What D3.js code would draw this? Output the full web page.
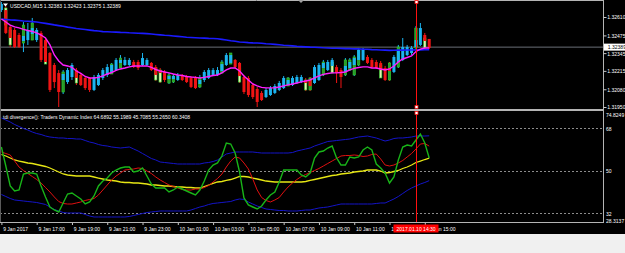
<!DOCTYPE html>
<html>
<head>
<meta charset="utf-8">
<script src="https://cdn.jsdelivr.net/npm/d3@7"></script>
<style>
  html, body { margin: 0; padding: 0; background: #f0f0f0; }
  svg { display: block; }
  text { font-family: "Liberation Sans", Arial, sans-serif; }
</style>
</head>
<body>
<svg id="chart" width="625" height="253"></svg>
<script>
// ---------------------------
// Data (USDCAD M15, 9 Jan 15:00 -> 10 Jan 15:15)
// ---------------------------
const symbolTitle = 'USDCAD,M15  1.32383 1.32423 1.32375 1.32389';
const tdiTitle = 'tdi divergence(): Traders Dynamic Index 64.6892 55.1989 45.7085 55.2650 60.3408';

const open = [1.32661,1.32661,1.32537,1.32515,1.32478,1.32434,1.32441,1.32485,1.32441,1.32493,
  1.32441,1.32346,1.32258,1.32199,1.32148,1.32133,1.32170,1.32221,1.32185,1.32163,
  1.32163,1.32075,1.32111,1.32163,1.32185,1.32207,1.32221,1.32273,1.32258,1.32258,
  1.32280,1.32280,1.32258,1.32258,1.32273,1.32243,1.32221,1.32207,1.32155,1.32155,
  1.32148,1.32177,1.32170,1.32163,1.32163,1.32119,1.32148,1.32163,1.32185,1.32185,
  1.32214,1.32258,1.32273,1.32295,1.32273,1.32170,1.32163,1.32111,1.32082,1.32053,
  1.32023,1.32038,1.32053,1.32075,1.32089,1.32111,1.32111,1.32126,1.32133,1.32148,
  1.32148,1.32126,1.32148,1.32236,1.32221,1.32251,1.32243,1.32221,1.32207,1.32236,
  1.32258,1.32295,1.32295,1.32317,1.32295,1.32280,1.32273,1.32236,1.32236,1.32207,
  1.32280,1.32295,1.32331,1.32346,1.32390,1.32405,1.32478,1.32449];
const close = [1.32705,1.32493,1.32456,1.32390,1.32390,1.32471,1.32515,1.32529,1.32515,1.32295,
  1.32280,1.32075,1.32133,1.32060,1.32192,1.32221,1.32258,1.32163,1.32111,1.32089,
  1.32075,1.32170,1.32185,1.32221,1.32243,1.32258,1.32295,1.32295,1.32295,1.32295,
  1.32243,1.32236,1.32309,1.32295,1.32221,1.32185,1.32199,1.32148,1.32177,1.32177,
  1.32185,1.32148,1.32133,1.32097,1.32089,1.32148,1.32207,1.32221,1.32221,1.32221,
  1.32265,1.32331,1.32331,1.32243,1.32177,1.32060,1.32038,1.32023,1.31987,1.32001,
  1.32075,1.32089,1.32104,1.32126,1.32163,1.32148,1.32163,1.32170,1.32170,1.32126,
  1.32104,1.32243,1.32258,1.32273,1.32280,1.32295,1.32199,1.32170,1.32251,1.32280,
  1.32309,1.32368,1.32368,1.32273,1.32243,1.32236,1.32221,1.32148,1.32214,1.32317,
  1.32368,1.32390,1.32390,1.32383,1.32441,1.32529,1.32434,1.32383];
const high = [1.32720,1.32691,1.32551,1.32529,1.32493,1.32573,1.32566,1.32603,1.32529,1.32507,
  1.32456,1.32353,1.32273,1.32221,1.32221,1.32236,1.32273,1.32236,1.32199,1.32177,
  1.32170,1.32185,1.32199,1.32236,1.32265,1.32273,1.32309,1.32331,1.32317,1.32309,
  1.32295,1.32295,1.32346,1.32309,1.32280,1.32258,1.32236,1.32221,1.32199,1.32192,
  1.32199,1.32192,1.32185,1.32177,1.32177,1.32185,1.32221,1.32236,1.32236,1.32243,
  1.32295,1.32346,1.32346,1.32302,1.32280,1.32185,1.32177,1.32126,1.32097,1.32067,
  1.32089,1.32104,1.32119,1.32141,1.32177,1.32170,1.32177,1.32185,1.32185,1.32163,
  1.32170,1.32258,1.32273,1.32295,1.32295,1.32309,1.32258,1.32236,1.32309,1.32309,
  1.32331,1.32383,1.32383,1.32331,1.32309,1.32295,1.32287,1.32251,1.32280,1.32331,
  1.32405,1.32456,1.32405,1.32397,1.32544,1.32566,1.32493,1.32449];
const low = [1.32647,1.32485,1.32390,1.32383,1.32383,1.32353,1.32405,1.32441,1.32427,1.32280,
  1.32265,1.32060,1.32089,1.31950,1.32045,1.32119,1.32148,1.32111,1.32104,1.32075,
  1.32060,1.32067,1.32104,1.32148,1.32170,1.32192,1.32214,1.32236,1.32251,1.32251,
  1.32236,1.32221,1.32251,1.32251,1.32214,1.32141,1.32126,1.32133,1.32119,1.32126,
  1.32141,1.32141,1.32126,1.32089,1.32082,1.32089,1.32133,1.32155,1.32177,1.32177,
  1.32199,1.32251,1.32265,1.32236,1.32126,1.32045,1.32023,1.32009,1.31950,1.31994,
  1.32016,1.32031,1.32045,1.32067,1.32082,1.32104,1.32104,1.32119,1.32126,1.32067,
  1.32067,1.32119,1.32141,1.32177,1.32214,1.32199,1.32126,1.32089,1.32177,1.32214,
  1.32177,1.32251,1.32287,1.32265,1.32236,1.32229,1.32163,1.32141,1.32141,1.32199,
  1.32236,1.32287,1.32324,1.32331,1.32375,1.32397,1.32375,1.32375];

// bodies of the plain candles that show out from under the coloured ones: [bar, open, close]
const plainBodies = [[1,1.32676,1.32551],[2,1.32515,1.32405],[5,1.32419,1.32551],[7,1.32441,1.32566],
  [10,1.32412,1.32265],[14,1.32060,1.32207],[17,1.32207,1.32126],[25,1.32192,1.32265],
  [27,1.32236,1.32309],[35,1.32236,1.32148],[36,1.32221,1.32133],[38,1.32126,1.32185],
  [39,1.32133,1.32177],[45,1.32097,1.32163],[50,1.32199,1.32280],[52,1.32265,1.32346],
  [54,1.32236,1.32133],[65,1.32104,1.32163],[69,1.32148,1.32075],[70,1.32075,1.32163],
  [73,1.32185,1.32280],[75,1.32280,1.32199],[78,1.32185,1.32295],[79,1.32221,1.32295],
  [80,1.32185,1.32317],[81,1.32258,1.32368],[86,1.32258,1.32163],[88,1.32148,1.32273],
  [90,1.32243,1.32390],[94,1.32383,1.32529],[96,1.32456,1.32383]];

const maSlow = [1.32595,1.32592,1.32589,1.32587,1.32584,1.32581,1.32579,1.32576,1.32573,1.32568,
  1.32563,1.32558,1.32552,1.32547,1.32542,1.32536,1.32531,1.32526,1.32522,1.32518,
  1.32514,1.32510,1.32507,1.32503,1.32502,1.32500,1.32499,1.32497,1.32496,1.32494,
  1.32493,1.32491,1.32490,1.32488,1.32485,1.32482,1.32479,1.32476,1.32474,1.32471,
  1.32468,1.32465,1.32462,1.32460,1.32458,1.32456,1.32455,1.32453,1.32452,1.32450,
  1.32446,1.32441,1.32436,1.32432,1.32427,1.32425,1.32422,1.32420,1.32419,1.32417,
  1.32414,1.32412,1.32409,1.32406,1.32403,1.32401,1.32398,1.32395,1.32393,1.32391,
  1.32389,1.32388,1.32386,1.32384,1.32383,1.32381,1.32381,1.32380,1.32378,1.32378,
  1.32376,1.32376,1.32374,1.32373,1.32371,1.32370,1.32368,1.32367,1.32365,1.32366,
  1.32367,1.32367,1.32368,1.32368,1.32369,1.32369,1.32370,1.32370];
const maFast = [1.32595,1.32573,1.32551,1.32537,1.32530,1.32519,1.32511,1.32504,1.32493,1.32478,
  1.32456,1.32405,1.32332,1.32288,1.32258,1.32251,1.32240,1.32214,1.32196,1.32174,
  1.32163,1.32163,1.32167,1.32178,1.32192,1.32203,1.32218,1.32229,1.32236,1.32244,
  1.32251,1.32251,1.32251,1.32251,1.32240,1.32225,1.32214,1.32207,1.32200,1.32192,
  1.32185,1.32181,1.32174,1.32170,1.32167,1.32163,1.32167,1.32174,1.32181,1.32185,
  1.32200,1.32222,1.32236,1.32236,1.32214,1.32178,1.32148,1.32119,1.32105,1.32094,
  1.32090,1.32090,1.32090,1.32097,1.32105,1.32112,1.32119,1.32126,1.32134,1.32141,
  1.32148,1.32163,1.32178,1.32189,1.32196,1.32200,1.32200,1.32203,1.32207,1.32222,
  1.32233,1.32240,1.32244,1.32244,1.32236,1.32236,1.32229,1.32222,1.32229,1.32251,
  1.32281,1.32302,1.32313,1.32324,1.32357,1.32375,1.32383,1.32383];

// Traders Dynamic Index
const tdiUpper = [72.24,71.39,70.54,69.48,68.64,67.79,67.15,66.31,65.67,65.25,
  64.61,64.19,63.98,63.77,63.77,63.55,63.55,63.34,63.34,62.71,
  62.07,61.65,61.01,60.59,60.38,59.95,59.74,59.53,59.74,59.95,
  59.11,58.26,57.20,56.14,55.08,54.45,53.60,53.39,53.18,52.97,
  52.75,52.75,52.75,52.75,52.75,52.75,53.18,53.39,53.81,54.45,
  55.72,56.99,57.41,57.84,57.84,57.84,57.84,57.84,57.62,57.41,
  57.41,57.41,57.41,57.41,57.41,57.41,57.62,58.26,58.68,59.11,
  59.53,60.38,61.01,61.65,62.28,62.49,62.71,62.92,63.13,63.34,
  63.77,64.19,64.40,64.61,64.19,63.77,63.13,62.49,62.92,63.55,
  63.77,63.77,63.98,64.19,64.61,64.61,64.61,64.69];
const tdiLower = [39.84,39.00,38.14,37.51,37.30,37.08,36.87,36.66,36.45,36.03,
  35.60,34.55,33.48,32.85,32.21,32.00,32.00,32.00,32.00,31.37,
  30.73,30.31,30.31,30.31,30.31,30.31,30.31,30.31,30.31,30.52,
  30.94,31.37,31.79,32.21,32.43,32.64,32.85,32.85,32.85,32.85,
  32.85,32.85,32.85,33.27,33.91,34.54,34.97,35.60,36.03,36.24,
  36.45,36.66,36.87,37.51,37.93,37.72,36.66,35.81,34.97,34.33,
  33.70,33.48,33.27,33.06,33.06,32.85,32.85,32.85,33.06,33.27,
  33.27,33.70,34.12,34.33,34.54,34.97,35.39,35.81,35.81,35.81,
  35.81,35.81,35.81,35.81,35.81,36.03,36.24,36.24,37.08,37.93,
  38.99,40.26,41.53,42.59,43.44,44.28,44.92,45.71];
const tdiMiddle = [56.78,56.14,55.30,54.45,54.02,53.60,53.18,52.97,52.54,52.12,
  51.70,51.06,50.21,49.37,48.52,48.10,47.88,47.67,47.67,47.67,
  47.67,47.25,46.82,46.40,45.98,45.77,45.55,45.13,44.92,44.92,
  44.71,44.71,44.50,44.28,43.86,43.86,43.65,43.44,43.44,43.22,
  43.01,43.01,42.80,42.80,42.59,42.59,43.22,43.86,44.50,45.13,
  45.34,45.77,46.19,46.82,47.46,47.46,47.25,46.82,46.40,45.98,
  45.55,45.34,45.13,45.13,45.13,45.13,45.13,45.13,45.13,45.34,
  45.77,46.19,46.61,47.04,47.46,47.88,48.10,48.52,48.73,48.94,
  49.37,49.58,49.79,50.21,50.21,50.21,49.79,48.94,49.15,49.58,
  50.00,50.85,51.48,52.33,53.39,54.02,54.66,55.20];
const tdiSignal = [57.84,57.20,56.57,54.02,51.48,50.00,48.73,47.46,46.19,44.71,
  42.80,40.90,38.78,36.87,36.03,35.81,35.81,36.24,36.66,37.30,
  37.72,38.14,39.63,41.74,43.86,45.98,47.67,48.94,50.21,50.42,
  50.64,51.06,50.85,49.79,48.73,47.25,45.98,44.92,43.86,43.22,
  42.59,41.95,41.74,41.74,42.17,42.17,42.80,43.65,45.13,46.61,
  48.52,51.48,54.02,55.72,55.30,53.18,50.64,46.40,41.74,38.57,
  37.30,36.66,37.51,38.57,40.90,43.01,44.71,46.19,47.46,48.31,
  49.15,50.00,50.85,51.91,52.97,54.02,55.08,56.14,56.35,56.35,
  56.57,56.35,55.93,56.14,56.78,56.99,54.87,52.33,51.91,52.33,
  53.18,54.24,55.72,57.20,59.11,61.22,61.44,60.34];
const tdiRsi = [59.95,51.91,43.44,41.32,41.74,48.52,48.94,48.94,48.52,43.44,
  38.78,34.54,33.27,32.43,36.24,40.05,40.47,39.20,37.93,35.81,
  36.66,39.20,43.44,45.55,46.82,48.94,50.21,51.06,51.48,51.48,
  49.37,49.79,51.06,47.67,44.28,42.59,42.59,42.59,40.90,41.74,
  43.01,42.17,41.32,40.47,39.63,41.74,45.55,50.21,52.33,53.18,
  56.14,61.65,61.22,57.41,49.37,38.36,35.39,34.54,33.70,34.97,
  37.51,39.63,40.90,45.13,50.21,50.21,50.21,50.21,48.10,47.25,
  48.94,55.30,57.84,58.26,59.53,60.38,55.30,52.33,52.33,55.72,
  55.30,55.72,58.68,59.95,58.68,52.75,51.06,48.94,44.71,47.25,
  54.45,59.95,60.80,60.38,62.92,65.46,61.65,55.27];

// axes
const priceTicks = [1.32610, 1.32475, 1.32345, 1.32215, 1.32080, 1.31950];
const lastPrice = 1.32389;
const tdiLevels = [68, 50, 32];
const tdiRange = [28.3137, 74.8249];
const timeTickBars = [0, 8, 16, 24, 32, 40, 48, 56, 64, 72, 80, 88, 96];
const timeTickLabels = ['9 Jan 2017', '9 Jan 17:00', '9 Jan 19:00', '9 Jan 21:00', '9 Jan 23:00',
  '10 Jan 01:00', '10 Jan 03:00', '10 Jan 05:00', '10 Jan 07:00', '10 Jan 09:00',
  '10 Jan 11:00', '10 Jan 13:00', '10 Jan 15:00'];
const cursorBar = 94;
const cursorLabel = '2017.01.10 14:30';

// ---------------------------
// Layout
// ---------------------------
const W = 625, H = 253;
const plotRight = 603;
const mainBox = { top: 0, bottom: 108 };
const indBox = { top: 111, bottom: 222 };
const axisBottom = 234;
const fontSize = 6;
const squeeze = 'scale(0.84,1)'; // terminal font is narrower than Liberation Sans

const svg = d3.select('#chart');

const x = d3.scaleLinear().domain([0, open.length - 1]).range([1.4, 429.2]);
const yPrice = d3.scaleLinear().domain([priceTicks[5], priceTicks[0]]).range([107, 17]);
const yTdi = d3.scaleLinear().domain(tdiRange).range([221.7, 111.9]);

// background
svg.append('rect').attr('width', W).attr('height', axisBottom).attr('fill', '#000');

const defs = svg.append('defs');
defs.append('clipPath').attr('id', 'clipMain').append('rect')
  .attr('x', 0).attr('y', mainBox.top).attr('width', plotRight).attr('height', mainBox.bottom - mainBox.top);
defs.append('clipPath').attr('id', 'clipInd').append('rect')
  .attr('x', 0).attr('y', indBox.top).attr('width', plotRight).attr('height', indBox.bottom - indBox.top);

// ---------------------------
// Main price panel
// ---------------------------
const mainG = svg.append('g').attr('clip-path', 'url(#clipMain)');

// bid line
mainG.append('line')
  .attr('x1', 0).attr('x2', plotRight)
  .attr('y1', yPrice(lastPrice)).attr('y2', yPrice(lastPrice))
  .attr('stroke', '#6a6e76').attr('stroke-width', 1);

const bars = d3.range(open.length);
const upColor = '#1cb4f0', downColor = '#f01414';
const barColor = i => close[i] >= open[i] ? upColor : downColor;
const bodyW = 3;

// wicks
mainG.selectAll('.wick').data(bars).enter().append('line')
  .attr('class', 'wick')
  .attr('x1', i => x(i)).attr('x2', i => x(i))
  .attr('y1', i => yPrice(high[i])).attr('y2', i => yPrice(low[i]))
  .attr('stroke', barColor).attr('stroke-width', 1);

// plain candles underneath
mainG.selectAll('.plain').data(plainBodies).enter().append('rect')
  .attr('class', 'plain')
  .attr('x', d => x(d[0]) - bodyW / 2 + 0.3)
  .attr('y', d => yPrice(Math.max(d[1], d[2])))
  .attr('width', bodyW - 0.6)
  .attr('height', d => Math.abs(yPrice(d[1]) - yPrice(d[2])))
  .attr('fill', d => d[2] >= d[1] ? '#2a9a2a' : '#e6eeb4')
  .attr('stroke', '#30d030').attr('stroke-width', 0.6);

// coloured bodies
mainG.selectAll('.body').data(bars).enter().append('rect')
  .attr('class', 'body')
  .attr('x', i => x(i) - bodyW / 2)
  .attr('y', i => yPrice(Math.max(open[i], close[i])))
  .attr('width', bodyW)
  .attr('height', i => Math.max(1, Math.abs(yPrice(open[i]) - yPrice(close[i]))))
  .attr('fill', barColor);

const priceLine = d3.line().x((d, i) => x(i)).y(d => yPrice(d));
mainG.append('path').datum(maSlow).attr('d', priceLine)
  .attr('fill', 'none').attr('stroke', '#1a1aff').attr('stroke-width', 1.6);
mainG.append('path').datum(maFast).attr('d', priceLine)
  .attr('fill', 'none').attr('stroke', '#ff1eff').attr('stroke-width', 1.4);

// ---------------------------
// TDI panel
// ---------------------------
const indG = svg.append('g').attr('clip-path', 'url(#clipInd)');

indG.selectAll('.level').data(tdiLevels).enter().append('line')
  .attr('x1', 0).attr('x2', plotRight)
  .attr('y1', d => Math.round(yTdi(d)) + 0.5).attr('y2', d => Math.round(yTdi(d)) + 0.5)
  .attr('stroke', '#8c8c8c').attr('stroke-width', 1).attr('stroke-dasharray', '2,2');

const tdiLine = d3.line().x((d, i) => x(i)).y(d => yTdi(d));
[
  { data: tdiUpper, color: '#1414c8', w: 1 },
  { data: tdiLower, color: '#1414c8', w: 1 },
  { data: tdiMiddle, color: '#e6e614', w: 1.3 },
  { data: tdiSignal, color: '#e01010', w: 1 },
  { data: tdiRsi, color: '#18b418', w: 1.4 }
].forEach(s => {
  indG.append('path').datum(s.data).attr('d', tdiLine)
    .attr('fill', 'none').attr('stroke', s.color).attr('stroke-width', s.w);
});

// ---------------------------
// Frames
// ---------------------------
const frame = '#b4b4b4';
svg.append('line').attr('x1', 0).attr('x2', plotRight + 0.5).attr('y1', 0.5).attr('y2', 0.5).attr('stroke', frame);
svg.append('line').attr('x1', 0).attr('x2', plotRight + 0.5).attr('y1', 110).attr('y2', 110).attr('stroke', frame).attr('stroke-width', 2);
svg.append('line').attr('x1', 0).attr('x2', plotRight + 0.5).attr('y1', indBox.bottom + 0.5).attr('y2', indBox.bottom + 0.5).attr('stroke', frame);
svg.append('line').attr('x1', plotRight + 0.5).attr('x2', plotRight + 0.5).attr('y1', 0).attr('y2', indBox.bottom + 1).attr('stroke', frame);
svg.append('line').attr('x1', 0.5).attr('x2', 0.5).attr('y1', 0).attr('y2', indBox.bottom).attr('stroke', '#5a5a5a');

// shift marker
svg.append('path').attr('d', 'M298,0 L304,0 L301,3 Z').attr('fill', '#a0a0a0');

// ---------------------------
// Cursor line
// ---------------------------
const cx = Math.round(x(cursorBar)) + 0.5;
[[mainBox.top, mainBox.bottom], [indBox.top, indBox.bottom]].forEach(([a, b]) => {
  svg.append('line').attr('x1', cx).attr('x2', cx).attr('y1', a).attr('y2', b)
    .attr('stroke', '#ff1010').attr('stroke-width', 1);
});
[mainBox.top + 2, mainBox.bottom - 1, indBox.top + 2].forEach(yy => {
  svg.append('rect').attr('x', cx - 1.5).attr('y', yy - 1.5).attr('width', 3).attr('height', 3)
    .attr('fill', '#fff').attr('stroke', '#ff1010').attr('stroke-width', 0.8);
});

// ---------------------------
// Axes
// ---------------------------
function styleAxis(g) {
  g.select('.domain').remove();
  g.selectAll('line').attr('stroke', '#c8c8c8');
  g.selectAll('text').attr('fill', '#ffffff').attr('font-size', fontSize).attr('transform', squeeze);
}

svg.append('g').attr('transform', `translate(${plotRight + 0.5},0)`)
  .call(d3.axisRight(yPrice).tickValues(priceTicks).tickFormat(d3.format('.5f')).tickSize(3).tickPadding(1.5))
  .call(styleAxis);

// last price box
const lp = svg.append('g').attr('transform', `translate(${plotRight + 1},${yPrice(lastPrice)})`);
lp.append('rect').attr('x', 0).attr('y', -3.5).attr('width', W - plotRight).attr('height', 7).attr('fill', '#fff');
lp.append('text').attr('x', 4.5).attr('dy', '0.35em').attr('font-size', fontSize).attr('fill', '#000')
  .attr('transform', squeeze).text(d3.format('.5f')(lastPrice));

const tdiAxisVals = [tdiRange[1], ...tdiLevels, tdiRange[0]];
svg.append('g').attr('transform', `translate(${plotRight + 0.5},0)`)
  .call(d3.axisRight(yTdi).tickValues(tdiAxisVals)
    .tickFormat(d => Number.isInteger(d) ? String(d) : d.toFixed(4)).tickSize(0).tickPadding(3))
  .call(styleAxis)
  .selectAll('.tick text').attr('dy', (d, i) => i === 0 ? '0.7em' : (i === tdiAxisVals.length - 1 ? '0.15em' : '0.35em'));

const timeAxis = svg.append('g').attr('transform', `translate(0,${indBox.bottom + 1})`)
  .call(d3.axisBottom(x).tickValues(timeTickBars)
    .tickFormat((d, i) => timeTickLabels[i]).tickSize(2).tickPadding(2))
  .call(styleAxis);
timeAxis.selectAll('.tick text').attr('text-anchor', 'start').attr('dx', 1.5);

// cursor time label
const cl = svg.append('g').attr('transform', `translate(${cx},${indBox.bottom + 1})`);
cl.append('rect').attr('x', -23).attr('y', 1.5).attr('width', 45).attr('height', 8).attr('fill', '#ff0000');
cl.append('text').attr('x', -0.5).attr('y', 7.6).attr('text-anchor', 'middle')
  .attr('font-size', fontSize).attr('fill', '#ffffff').attr('transform', squeeze).text(cursorLabel);

// ---------------------------
// Titles
// ---------------------------
svg.append('path').attr('d', 'M3,3.5 L8,3.5 L5.5,6.5 Z').attr('fill', '#ffffff');
svg.append('g').attr('transform', 'translate(10,7.5)').append('text')
  .attr('font-size', fontSize).attr('fill', '#ffffff').attr('transform', squeeze).text(symbolTitle);
svg.append('g').attr('transform', 'translate(3,118.5)').append('text')
  .attr('font-size', fontSize).attr('fill', '#ffffff').attr('transform', squeeze).text(tdiTitle);
</script>
</body>
</html>
